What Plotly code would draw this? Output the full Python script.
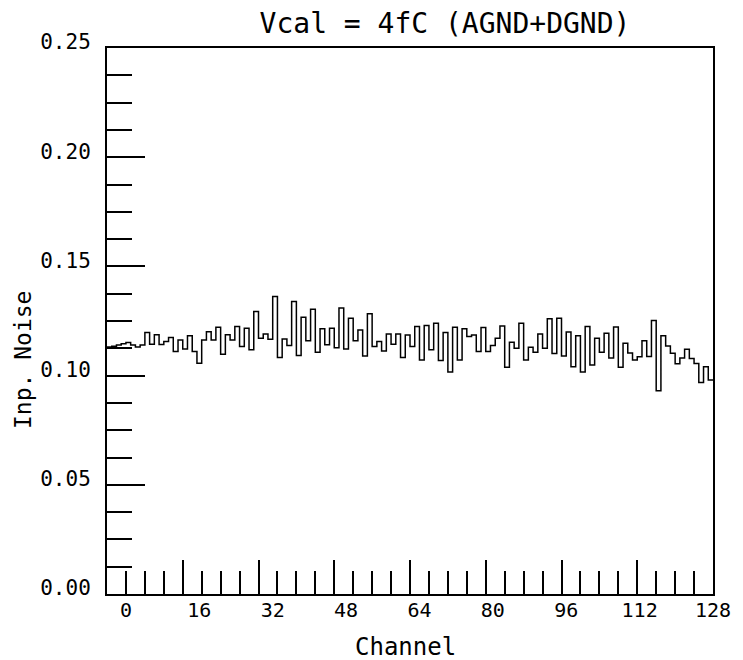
import numpy as np
import plotly.graph_objects as go

# ---- data ----
noise = [
    0.1131, 0.1134, 0.1140, 0.1146, 0.1152, 0.1140, 0.1131, 0.1140,
    0.1197, 0.1143, 0.1187, 0.1142, 0.1156, 0.1174, 0.1110, 0.1163,
    0.1122, 0.1182, 0.1110, 0.1057, 0.1163, 0.1201, 0.1163, 0.1221,
    0.1098, 0.1187, 0.1163, 0.1225, 0.1133, 0.1217, 0.1118, 0.1293,
    0.1171, 0.1190, 0.1167, 0.1362, 0.1083, 0.1168, 0.1138, 0.1339,
    0.1092, 0.1267, 0.1159, 0.1304, 0.1107, 0.1214, 0.1141, 0.1217,
    0.1128, 0.1309, 0.1122, 0.1263, 0.1160, 0.1209, 0.1090, 0.1283,
    0.1133, 0.1156, 0.1113, 0.1190, 0.1144, 0.1190, 0.1083, 0.1186,
    0.1133, 0.1225, 0.1072, 0.1229, 0.1118, 0.1240, 0.1069, 0.1197,
    0.1016, 0.1221, 0.1072, 0.1215, 0.1179, 0.1186, 0.1110, 0.1220,
    0.1110, 0.1138, 0.1171, 0.1227, 0.1038, 0.1153, 0.1125, 0.1240,
    0.1072, 0.1130, 0.1107, 0.1191, 0.1125, 0.1260, 0.1101, 0.1263,
    0.1090, 0.1200, 0.1040, 0.1182, 0.1016, 0.1225, 0.1049, 0.1171,
    0.1107, 0.1194, 0.1081, 0.1222, 0.1038, 0.1148, 0.1104, 0.1072,
    0.1086, 0.1160, 0.1087, 0.1252, 0.0931, 0.1182, 0.1136, 0.1102,
    0.1054, 0.1081, 0.1121, 0.1078, 0.1055, 0.0968, 0.1040, 0.0980,
]
n_bins = len(noise)
bin_edges = list(range(n_bins + 1))

x_label_values = [0, 16, 32, 48, 64, 80, 96, 112, 128]
x_label_text = [str(v) for v in x_label_values]
# labels are drawn on a scale running from -128/31 to 128 across the frame
x_label_pos = [4 + v * 31 / 32 for v in x_label_values]

title_text = "Vcal = 4fC (AGND+DGND)"
x_title = "Channel"
y_title = "Inp. Noise"

FONT = "DejaVu Sans Mono"
W, H = 735, 652          # page adds an 8px body margin
ML, MR, MT, MB = 99, 30, 40, 66
PW, PH = W - ML - MR, H - MT - MB

fig = go.Figure()
fig.add_trace(go.Scatter(
    x=bin_edges, y=noise + [noise[-1]],
    mode="lines", line=dict(shape="hv", color="black", width=1.5),
    showlegend=False, hoverinfo="skip",
))
fig.add_trace(go.Scatter(x=[0, 128], y=[0, 0], xaxis="x2", mode="markers",
                         marker=dict(opacity=0), showlegend=False, hoverinfo="skip"))

fig.update_layout(
    width=W, height=H,
    margin=dict(l=ML, r=MR, t=MT, b=MB, autoexpand=False),
    plot_bgcolor="white", paper_bgcolor="white",
    font=dict(family=FONT, color="black"),
    title=dict(text=title_text, x=437 / W, xref="container", xanchor="center",
               y=1 - 15 / H, yanchor="middle",
               font=dict(family=FONT, size=28, color="black")),
    xaxis=dict(
        range=[0, 128], showgrid=False, zeroline=False,
        showline=True, linecolor="black", linewidth=2, mirror=True,
        ticks="inside", tick0=0, dtick=16, ticklen=34, tickwidth=1.5, tickcolor="black",
        minor=dict(ticks="inside", dtick=4, tick0=0, ticklen=23, tickwidth=1.5, tickcolor="black"),
        showticklabels=False,
    ),
    xaxis2=dict(
        range=[0, 128], overlaying="x", anchor="y", side="bottom",
        showgrid=False, zeroline=False, showline=False, ticks="",
        tickmode="array", tickvals=x_label_pos, ticktext=x_label_text,
        tickfont=dict(family=FONT, size=20, color="black"),
        ticklabelstandoff=2,
    ),
    yaxis=dict(
        range=[0, 0.25], showgrid=False, zeroline=False,
        showline=True, linecolor="black", linewidth=2, mirror=True,
        ticks="inside", tick0=0, dtick=0.05, ticklen=38, tickwidth=1.5, tickcolor="black",
        minor=dict(ticks="inside", dtick=0.0125, tick0=0, ticklen=25, tickwidth=1.5, tickcolor="black"),
        tickformat=".2f", tickfont=dict(family=FONT, size=21, color="black"),
        ticklabelstandoff=10, ticklabelshift=-6,
    ),
    annotations=[
        dict(text=x_title, xref="paper", yref="paper", x=(405 - 107) / PW, y=-(647 - 594) / PH,
             xanchor="center", yanchor="middle", showarrow=False,
             font=dict(family=FONT, size=24, color="black")),
        dict(text=y_title, xref="paper", yref="paper", x=-(107 - 23) / PW, y=(594 - 360) / PH,
             xanchor="center", yanchor="middle", showarrow=False, textangle=-90,
             font=dict(family=FONT, size=23, color="black")),
    ],
)

fig.write_html("out.html")
